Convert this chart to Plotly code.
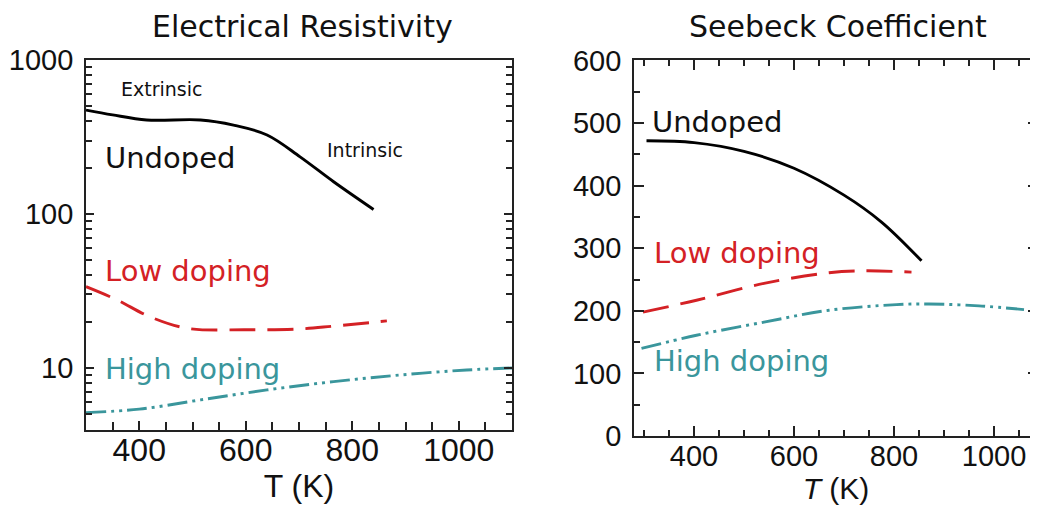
import plotly.graph_objects as go

# ---------------- data ----------------
# Electrical resistivity (log scale) vs T (K)
rho_T_undoped = [300, 350, 414, 515, 577, 640, 702, 765, 840]
rho_undoped = [473, 440, 408, 408, 378, 326, 235, 162, 107]
rho_T_low = [300, 358, 420, 490, 600, 700, 765, 865]
rho_low = [33.7, 27.7, 21.5, 18.1, 17.7, 17.9, 18.7, 20.2]
rho_T_high = [300, 400, 515, 640, 765, 890, 1015, 1100]
rho_high = [5.13, 5.4, 6.2, 7.2, 8.15, 9.0, 9.7, 10.0]

# Seebeck coefficient vs T (K)
S_T_undoped = [305, 400, 500, 600, 700, 775, 855]
S_undoped = [472, 469, 455, 428, 385, 342, 280]
S_T_low = [298, 405, 540, 670, 740, 835]
S_low = [198, 217, 244, 261, 264, 262]
S_T_high = [295, 405, 540, 670, 805, 870, 970, 1060]
S_high = [140, 161, 182, 201, 210, 211, 208, 202]

x_ticks = [400, 600, 800, 1000]
rho_ticks = [10, 100, 1000]
S_ticks = [0, 100, 200, 300, 400, 500, 600]

BLACK = "#000000"
RED = "#d42125"
TEAL = "#3a969c"
OFF = 8  # page body margin
W, H = 1038 - OFF, 508 - OFF

def px(x):
    return (x - OFF) / W

def py(y):
    return 1 - (y - OFF) / H

LW = 2.9
fig = go.Figure()

# left panel
fig.add_trace(go.Scatter(x=rho_T_undoped, y=rho_undoped, mode="lines", line=dict(color=BLACK, width=LW, shape="spline"), xaxis="x", yaxis="y", name="Undoped"))
fig.add_trace(go.Scatter(x=rho_T_low, y=rho_low, mode="lines", line=dict(color=RED, width=LW, shape="spline", dash="26px,12px"), xaxis="x", yaxis="y", name="Low doping"))
fig.add_trace(go.Scatter(x=rho_T_high, y=rho_high, mode="lines", line=dict(color=TEAL, width=LW, shape="spline", dash="20px,5px,3px,5px,3px,5px"), xaxis="x", yaxis="y", name="High doping"))

# right panel
fig.add_trace(go.Scatter(x=S_T_undoped, y=S_undoped, mode="lines", line=dict(color=BLACK, width=LW, shape="spline"), xaxis="x2", yaxis="y2", name="Undoped"))
fig.add_trace(go.Scatter(x=S_T_low, y=S_low, mode="lines", line=dict(color=RED, width=LW, shape="spline", dash="26px,12px"), xaxis="x2", yaxis="y2", name="Low doping"))
fig.add_trace(go.Scatter(x=S_T_high, y=S_high, mode="lines", line=dict(color=TEAL, width=LW, shape="spline", dash="20px,5px,3px,5px,3px,5px"), xaxis="x2", yaxis="y2", name="High doping"))

axis_common = dict(showgrid=False, zeroline=False, showline=True, linecolor="#222", linewidth=1.8,
                   ticks="inside", tickcolor="#222", tickwidth=1.5, automargin=False)

lab = dict(family="Liberation Sans, Arial, sans-serif", color="#111")

fig.update_layout(
    width=W, height=H,
    margin=dict(l=0, r=0, t=0, b=0, autoexpand=False),
    paper_bgcolor="white", plot_bgcolor="white",
    showlegend=False,
    xaxis=dict(**axis_common, domain=[px(86), px(512)], range=[300, 1100], anchor="y",
               tickvals=x_ticks, ticklen=9, mirror=True, ticklabelstandoff=-9,
               minor=dict(ticks="inside", dtick=50, tick0=0, ticklen=8, tickcolor="#222", tickwidth=1.5),
               tickfont=dict(**lab, size=32),
               title=dict(text="T (K)", font=dict(**lab, size=32), standoff=2)),
    yaxis=dict(**axis_common, domain=[py(430), py(60)], type="log", range=[0.597, 3.0], anchor="x",
               tickvals=rho_ticks, ticktext=["10", "100", "1000"], ticklen=8, mirror="ticks", ticklabelstandoff=5,
               minor=dict(ticks="inside", dtick="D1", ticklen=6, tickcolor="#222", tickwidth=1.5),
               tickfont=dict(**lab, size=29)),
    xaxis2=dict(**axis_common, domain=[px(634), 1.0], range=[280, 1088], anchor="y2",
                tickvals=x_ticks, ticklen=10, mirror="ticks", ticklabelstandoff=-7,
                minor=dict(ticks="inside", dtick=50, tick0=0, ticklen=6, tickcolor="#222", tickwidth=1.5),
                tickfont=dict(**lab, size=29),
                title=dict(text="<i>T</i> (K)", font=dict(**lab, size=30), standoff=0)),
    yaxis2=dict(**axis_common, domain=[py(436), py(60)], range=[0, 601], anchor="x2",
                tickvals=S_ticks, ticklen=10, mirror="ticks", ticklabelstandoff=5,
                minor=dict(ticks="inside", dtick=50, tick0=0, ticklen=6, tickcolor="#222", tickwidth=1.5),
                tickfont=dict(**lab, size=29)),
)

title_font = dict(family="DejaVu Sans, sans-serif", size=30, color="#111")
text_font = "DejaVu Sans, sans-serif"

annotations = [
    dict(text="Electrical Resistivity", x=px(302), y=py(26), xref="paper", yref="paper", showarrow=False, font=title_font, xanchor="center", yanchor="middle"),
    dict(text="Seebeck Coefficient", x=px(838), y=py(26), xref="paper", yref="paper", showarrow=False, font=title_font, xanchor="center", yanchor="middle"),
    # left panel labels
    dict(text="Extrinsic", x=441, y=2.812, xref="x", yref="y", showarrow=False, font=dict(family=text_font, size=19, color="#111"), xanchor="center", yanchor="middle"),
    dict(text="Undoped", x=332, y=2.364, xref="x", yref="y", showarrow=False, font=dict(family=text_font, size=29, color="#111"), xanchor="left", yanchor="middle"),
    dict(text="Intrinsic", x=824, y=2.416, xref="x", yref="y", showarrow=False, font=dict(family=text_font, size=19, color="#111"), xanchor="center", yanchor="middle"),
    dict(text="Low doping", x=332, y=1.63, xref="x", yref="y", showarrow=False, font=dict(family=text_font, size=29, color=RED), xanchor="left", yanchor="middle"),
    dict(text="High doping", x=332, y=0.994, xref="x", yref="y", showarrow=False, font=dict(family=text_font, size=29, color=TEAL), xanchor="left", yanchor="middle"),
    # right panel labels
    dict(text="Undoped", x=312, y=502, xref="x2", yref="y2", showarrow=False, font=dict(family=text_font, size=29, color="#111"), xanchor="left", yanchor="middle"),
    dict(text="Low doping", x=316, y=292, xref="x2", yref="y2", showarrow=False, font=dict(family=text_font, size=29, color=RED), xanchor="left", yanchor="middle"),
    dict(text="High doping", x=316, y=120, xref="x2", yref="y2", showarrow=False, font=dict(family=text_font, size=29, color=TEAL), xanchor="left", yanchor="middle"),
]
fig.update_layout(annotations=annotations)

fig.write_html("out.html")
